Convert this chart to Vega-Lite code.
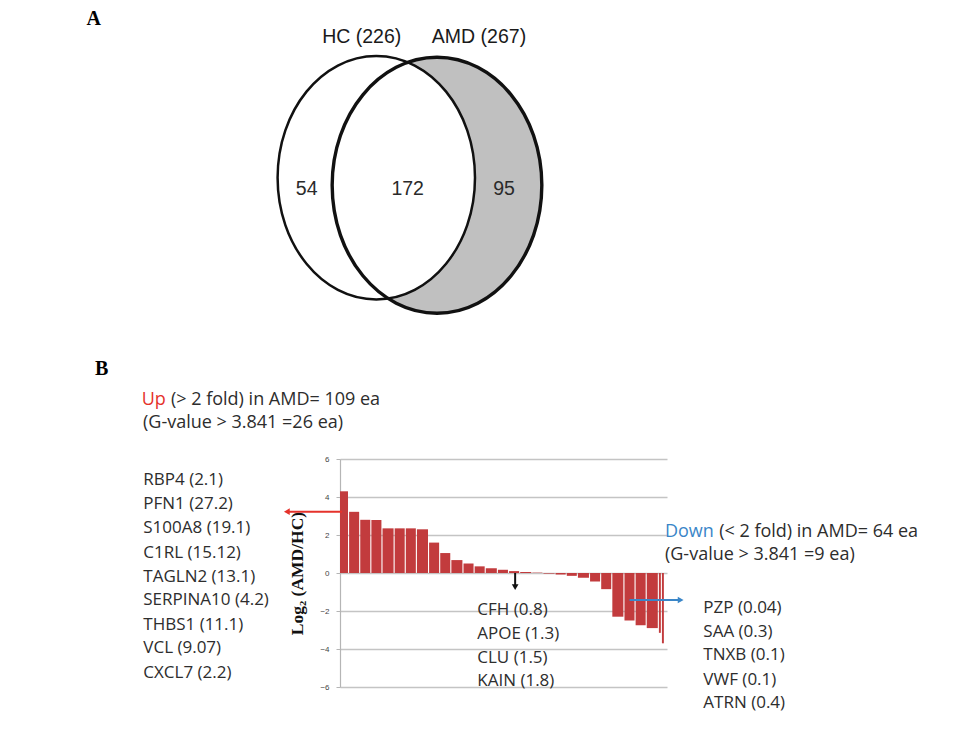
{
  "$schema": "https://vega.github.io/schema/vega-lite/v6.json",
  "background": "white",
  "padding": {"left": 86, "top": 0, "right": 5, "bottom": 5},
  "autosize": {"type": "pad"},
  "bounds": "flush",
  "spacing": 119,
  "config": {"view": {"stroke": null}},
  "datasets": {
    "venn": [
      {"set": "HC", "cx": 0, "cy": 0},
      {"set": "AMD", "cx": 0.607, "cy": -0.076}
    ],
    "vennText": [
      {"label": "HC (226)", "kind": "title", "cx": -0.146, "cy": 1.407},
      {"label": "AMD (267)", "kind": "title", "cx": 1.027, "cy": 1.407},
      {"label": "54", "kind": "count", "cx": -0.696, "cy": -0.116},
      {"label": "172", "kind": "count", "cx": 0.314, "cy": -0.113},
      {"label": "95", "kind": "count", "cx": 1.277, "cy": -0.113},
      {"label": "A", "kind": "panel", "cx": -2.826, "cy": 1.59}
    ],
    "bars": [
      {"rank": 0, "rank_end": 9, "log2": 4.3},
      {"rank": 9, "rank_end": 20, "log2": 3.22},
      {"rank": 20, "rank_end": 31, "log2": 2.8},
      {"rank": 31, "rank_end": 42, "log2": 2.79},
      {"rank": 42, "rank_end": 54, "log2": 2.35},
      {"rank": 54, "rank_end": 65, "log2": 2.35},
      {"rank": 65, "rank_end": 76, "log2": 2.35},
      {"rank": 76, "rank_end": 88, "log2": 2.3},
      {"rank": 88, "rank_end": 99, "log2": 1.6},
      {"rank": 99, "rank_end": 110, "log2": 1.05},
      {"rank": 110, "rank_end": 122, "log2": 0.68},
      {"rank": 122, "rank_end": 133, "log2": 0.5},
      {"rank": 133, "rank_end": 144, "log2": 0.35},
      {"rank": 144, "rank_end": 156, "log2": 0.25},
      {"rank": 156, "rank_end": 167, "log2": 0.17},
      {"rank": 167, "rank_end": 178, "log2": 0.1},
      {"rank": 178, "rank_end": 190, "log2": 0.05},
      {"rank": 190, "rank_end": 201, "log2": 0.02},
      {"rank": 201, "rank_end": 213, "log2": -0.03},
      {"rank": 213, "rank_end": 224, "log2": -0.08},
      {"rank": 224, "rank_end": 235, "log2": -0.15},
      {"rank": 235, "rank_end": 247, "log2": -0.25},
      {"rank": 247, "rank_end": 258, "log2": -0.45},
      {"rank": 258, "rank_end": 269, "log2": -0.85},
      {"rank": 269, "rank_end": 281, "log2": -2.3},
      {"rank": 281, "rank_end": 292, "log2": -2.5},
      {"rank": 292, "rank_end": 303, "log2": -2.75},
      {"rank": 303, "rank_end": 315, "log2": -2.9},
      {"rank": 315, "rank_end": 318, "log2": -3.15},
      {"rank": 318, "rank_end": 321, "log2": -3.7}
    ],
    "notes": [
      {"text": "B", "kind": "panel", "rank": -235.4, "log2": 10.737},
      {"text": "Up", "kind": "up", "rank": -195.9, "log2": 9.105},
      {"text": "(> 2 fold) in AMD= 109 ea", "kind": "head", "rank": -167.0, "log2": 9.105},
      {"text": "(G-value > 3.841 =26 ea)", "kind": "head", "rank": -194.6, "log2": 7.879},
      {"text": "Down", "kind": "down", "rank": 321.0, "log2": 2.174},
      {"text": "(< 2 fold) in AMD= 64 ea", "kind": "head", "rank": 374.5, "log2": 2.174},
      {"text": "(G-value > 3.841 =9 ea)", "kind": "head", "rank": 321.0, "log2": 0.947}
    ],
    "genes": [
      {"text": "RBP4 (2.1)", "rank": -194.3, "log2": 4.895},
      {"text": "PFN1 (27.2)", "rank": -194.3, "log2": 3.632},
      {"text": "S100A8 (19.1)", "rank": -194.3, "log2": 2.353},
      {"text": "C1RL (15.12)", "rank": -194.3, "log2": 1.068},
      {"text": "TAGLN2 (13.1)", "rank": -194.3, "log2": -0.195},
      {"text": "SERPINA10 (4.2)", "rank": -194.3, "log2": -1.421},
      {"text": "THBS1 (11.1)", "rank": -194.3, "log2": -2.737},
      {"text": "VCL (9.07)", "rank": -194.3, "log2": -3.963},
      {"text": "CXCL7 (2.2)", "rank": -194.3, "log2": -5.279},
      {"text": "CFH (0.8)", "rank": 135.6, "log2": -1.947},
      {"text": "APOE (1.3)", "rank": 135.6, "log2": -3.211},
      {"text": "CLU (1.5)", "rank": 135.6, "log2": -4.474},
      {"text": "KAIN (1.8)", "rank": 135.6, "log2": -5.684},
      {"text": "PZP (0.04)", "rank": 358.9, "log2": -1.858},
      {"text": "SAA (0.3)", "rank": 358.9, "log2": -3.089},
      {"text": "TNXB (0.1)", "rank": 358.9, "log2": -4.316},
      {"text": "VWF (0.1)", "rank": 358.9, "log2": -5.632},
      {"text": "ATRN (0.4)", "rank": 358.9, "log2": -6.858}
    ],
    "arrows": [
      {"kind": "up", "rank": -51, "rank_end": 2, "log2": 3.226, "log2_end": 3.226},
      {"kind": "mid", "rank": 173, "rank_end": 173, "log2": 0, "log2_end": -0.68},
      {"kind": "down", "rank": 286, "rank_end": 335, "log2": -1.42, "log2_end": -1.42}
    ],
    "heads": [
      {"kind": "up", "rank": -52.5, "log2": 3.226},
      {"kind": "mid", "rank": 173, "log2": -0.74},
      {"kind": "down", "rank": 336.5, "log2": -1.42}
    ]
  },
  "vconcat": [
    {
      "width": 327,
      "height": 340,
      "encoding": {
        "x": {"field": "cx", "type": "quantitative", "scale": {"domain": [-0.363, 2.907]}, "axis": null},
        "y": {"field": "cy", "type": "quantitative", "scale": {"domain": [-1.623, 1.777]}, "axis": null}
      },
      "layer": [
        {
          "data": {"name": "venn"},
          "transform": [{"filter": "datum.set === 'AMD'"}],
          "mark": {"type": "point", "filled": true, "fill": "#c0c0c0", "strokeWidth": 0, "opacity": 1, "size": 65536,
            "shape": "M 0.819 0 C 0.819 0.552 0.452 1 0 1 C -0.452 1 -0.819 0.552 -0.819 0 C -0.819 -0.552 -0.452 -1 0 -1 C 0.452 -1 0.819 -0.552 0.819 0 Z"}
        },
        {
          "data": {"name": "venn"},
          "transform": [{"filter": "datum.set === 'HC'"}],
          "mark": {"type": "point", "filled": true, "fill": "white", "strokeWidth": 0, "opacity": 1, "size": 59244,
            "shape": "M 0.811 0 C 0.811 0.552 0.448 1 0 1 C -0.448 1 -0.811 0.552 -0.811 0 C -0.811 -0.552 -0.448 -1 0 -1 C 0.448 -1 0.811 -0.552 0.811 0 Z"}
        },
        {
          "data": {"name": "venn"},
          "transform": [{"filter": "datum.set === 'HC'"}],
          "mark": {"type": "point", "filled": false, "stroke": "#111111", "strokeWidth": 2.5, "opacity": 1, "size": 59244,
            "shape": "M 0.811 0 C 0.811 0.552 0.448 1 0 1 C -0.448 1 -0.811 0.552 -0.811 0 C -0.811 -0.552 -0.448 -1 0 -1 C 0.448 -1 0.811 -0.552 0.811 0 Z"}
        },
        {
          "data": {"name": "venn"},
          "transform": [{"filter": "datum.set === 'AMD'"}],
          "mark": {"type": "point", "filled": false, "stroke": "#111111", "strokeWidth": 3.4, "opacity": 1, "size": 65536,
            "shape": "M 0.819 0 C 0.819 0.552 0.452 1 0 1 C -0.452 1 -0.819 0.552 -0.819 0 C -0.819 -0.552 -0.452 -1 0 -1 C 0.452 -1 0.819 -0.552 0.819 0 Z"}
        },
        {
          "data": {"name": "vennText"},
          "transform": [{"filter": "datum.kind === 'title'"}],
          "mark": {"type": "text", "font": "Liberation Sans Narrow, Liberation Sans", "fontSize": 19.5, "color": "#1a1a1a", "align": "center", "baseline": "middle"},
          "encoding": {"text": {"field": "label"}}
        },
        {
          "data": {"name": "vennText"},
          "transform": [{"filter": "datum.kind === 'count'"}],
          "mark": {"type": "text", "font": "Liberation Sans Narrow, Liberation Sans", "fontSize": 19.5, "color": "#2a2a2a", "align": "center", "baseline": "middle"},
          "encoding": {"text": {"field": "label"}}
        },
        {
          "data": {"name": "vennText"},
          "transform": [{"filter": "datum.kind === 'panel'"}],
          "mark": {"type": "text", "font": "Liberation Serif", "fontWeight": "bold", "fontSize": 20, "color": "#000000", "align": "center", "baseline": "middle"},
          "encoding": {"text": {"field": "label"}}
        }
      ]
    },
    {
      "width": 327,
      "height": 228,
      "encoding": {
        "x": {"field": "rank", "type": "quantitative", "scale": {"domain": [0, 323]}, "axis": null},
        "y": {"field": "log2", "type": "quantitative", "scale": {"domain": [-6, 6]},
          "axis": {"values": [-6, -4, -2, 0, 2, 4, 6], "title": "Log₂ (AMD/HC)", "titleFont": "Liberation Serif", "titleFontWeight": "bold", "titleFontSize": 17.5, "titleColor": "#111111", "titlePadding": 13,
            "labelFontSize": 8, "labelColor": "#444444", "labelFont": "Liberation Sans", "labelPadding": 7,
            "tickSize": 4, "tickColor": "#b5b5b5", "domainColor": "#b5b5b5", "domainWidth": 1.2,
            "grid": true, "gridColor": "#c4c4c4", "gridWidth": 1.5}}
      },
      "layer": [
        {
          "data": {"name": "bars"},
          "mark": {"type": "bar", "color": "#c23b3d", "x2Offset": -1.1},
          "encoding": {
            "x2": {"field": "rank_end"},
            "y2": {"datum": 0}
          }
        },
        {
          "data": {"name": "arrows"},
          "mark": {"type": "rule", "strokeWidth": 2},
          "encoding": {
            "x2": {"field": "rank_end"},
            "y2": {"field": "log2_end"},
            "color": {"field": "kind", "type": "nominal", "scale": {"domain": ["up", "mid", "down", "head"], "range": ["#e5322b", "#111111", "#3a86c8", "#2d2d2d"]}, "legend": null}
          }
        },
        {
          "data": {"name": "heads"},
          "mark": {"type": "point", "filled": true, "opacity": 1, "size": 45},
          "encoding": {
            "color": {"field": "kind", "type": "nominal", "scale": {"domain": ["up", "mid", "down", "head"], "range": ["#e5322b", "#111111", "#3a86c8", "#2d2d2d"]}, "legend": null},
            "shape": {"field": "kind", "type": "nominal", "scale": {"domain": ["up", "mid", "down"], "range": ["triangle-left", "triangle-down", "triangle-right"]}, "legend": null}
          }
        },
        {
          "data": {"name": "notes"},
          "transform": [{"filter": "datum.kind !== 'panel'"}],
          "mark": {"type": "text", "font": "Open Sans", "fontSize": 18, "align": "left", "baseline": "middle"},
          "encoding": {
            "text": {"field": "text"},
            "color": {"field": "kind", "type": "nominal", "scale": {"domain": ["up", "mid", "down", "head"], "range": ["#e5322b", "#111111", "#3a86c8", "#2d2d2d"]}, "legend": null}
          }
        },
        {
          "data": {"name": "notes"},
          "transform": [{"filter": "datum.kind === 'panel'"}],
          "mark": {"type": "text", "font": "Liberation Serif", "fontWeight": "bold", "fontSize": 20, "color": "#000000", "align": "center", "baseline": "middle"},
          "encoding": {"text": {"field": "text"}}
        },
        {
          "data": {"name": "genes"},
          "mark": {"type": "text", "font": "Open Sans", "fontSize": 17, "color": "#2d2d2d", "align": "left", "baseline": "middle"},
          "encoding": {"text": {"field": "text"}}
        }
      ]
    }
  ]
}
